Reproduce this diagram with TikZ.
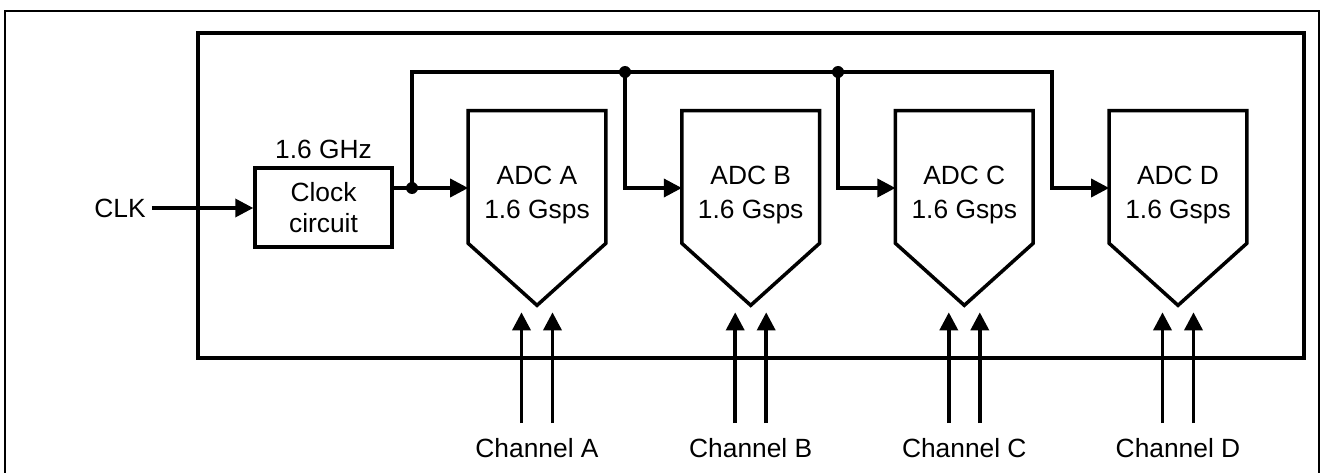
\documentclass[tikz,border=0pt]{standalone}
\usepackage{fontspec}
\setmainfont{Liberation Sans}
\usetikzlibrary{arrows.meta,calc,positioning}
\def\adcW{2.74cm}
\def\adcH{2.64cm}
\def\tipdrop{62}

\begin{document}
\begin{tikzpicture}[
    x=0.02cm, y=-0.02cm,
    every node/.style={
      font=\fontsize{15}{18}\selectfont
    },
    wire/.style={
      line width=2pt, line join=miter
    },
    arrowtip/.style={
      -{Triangle[length=0.36cm,width=0.36cm]}
    },
    adc/.style={
      minimum width=\adcW, minimum height=\adcH, inner sep=0pt
    },
    adctext/.style={
      align=center, font=\fontsize{15}{19}\selectfont
    },
    block/.style={
      draw, line width=2pt, align=center, inner sep=0pt,
      minimum width=2.74cm, minimum height=1.58cm
    }
  ]
    \useasboundingbox (0,0) rectangle (1326,473);

    % frames
    \draw[line width=1.2pt] (5,490) |- (1319,11) -- (1319,490);
    \draw[line width=2pt] (198,33) rectangle (1304,358);

    % clock input
    \node (clkin) at (120,208) {CLK};
    \node[block] (clk) at (323.5,207.5) {Clock\\circuit};
    \node[above=1pt of clk] (freq) {1.6 GHz};
    \draw[wire,arrowtip] (clkin.east) -- (clk.west |- clkin.east);

    % converters
    \foreach \ltr/\xpos in {A/537,B/750.7,C/964.3,D/1178} {
      \node[adc] (adc\ltr) at (\xpos,177) {};
      \draw[wire] (adc\ltr.north west) -- (adc\ltr.north east) -- (adc\ltr.south east)
        -- ($(adc\ltr.south)+(0,\tipdrop)$) coordinate (tip\ltr) -- (adc\ltr.south west) -- cycle;
      \node[adctext] (lbl\ltr) at (\xpos,195) {ADC \ltr\\1.6 Gsps};
      \node (ch\ltr) at (\xpos,448) {Channel \ltr};
      \draw[wire,arrowtip] ($(ch\ltr.north)+(-15.5,-9)$) -- ($(tip\ltr)+(-15.5,7)$);
      \draw[wire,arrowtip] ($(ch\ltr.north)+(15.5,-9)$) -- ($(tip\ltr)+(15.5,7)$);
    }

    % clock distribution
    \coordinate (jA) at (412,188);
    \coordinate (jB) at (625,72);
    \coordinate (jC) at (838,72);
    \coordinate (bend) at (1052,72);
    \draw[wire] (clk.east |- jA) -- (jA);
    \draw[wire,arrowtip] (jA) -- (adcA.west |- jA);
    \draw[wire,arrowtip] (jA) |- (bend) |- (adcD.west |- jA);
    \draw[wire,arrowtip] (jB) |- (adcB.west |- jA);
    \draw[wire,arrowtip] (jC) |- (adcC.west |- jA);
    \foreach \dot in {jA,jB,jC}
      \fill (\dot) circle[radius=6];
  \end{tikzpicture}
\end{document}
